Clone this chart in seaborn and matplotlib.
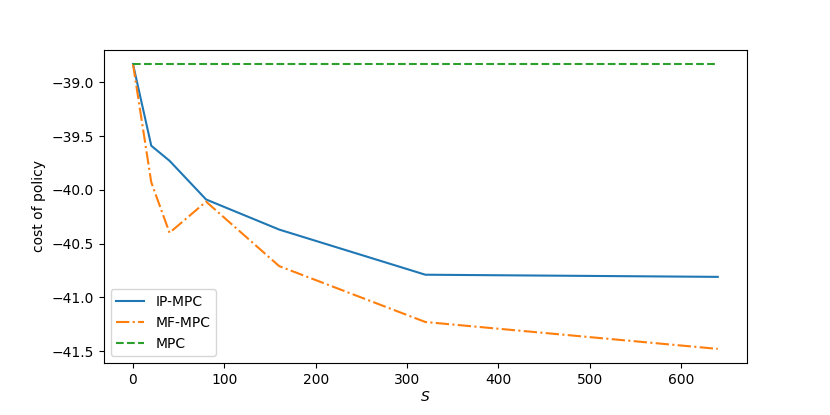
import pandas as pd
import seaborn as sns
import matplotlib
matplotlib.use('Agg')
import matplotlib.pyplot as plt

# sample sizes and policy costs
samples = [0, 20, 40, 80, 160, 320, 640]
ip_mpc = [-38.83, -39.59, -39.73, -40.09, -40.37, -40.79, -40.81]
mf_mpc = [-38.83, -39.93, -40.40, -40.11, -40.71, -41.23, -41.48]
mpc = [-38.83] * len(samples)

plt.figure(figsize=(8.3, 4.15), dpi=100)
ax = plt.gca()

sns.lineplot(x=samples, y=ip_mpc, color='tab:blue', linestyle='-', label='IP-MPC', ax=ax)
sns.lineplot(x=samples, y=mf_mpc, color='tab:orange', linestyle='-.', label='MF-MPC', ax=ax)
sns.lineplot(x=samples, y=mpc, color='tab:green', linestyle='--', label='MPC', ax=ax)

ax.set_xlabel('$S$', labelpad=2)
ax.set_ylabel('cost of policy')
ax.legend(loc='lower left')

plt.subplots_adjust(left=0.125, right=0.9, top=0.88, bottom=0.125)
plt.savefig('out.png', dpi=100)
